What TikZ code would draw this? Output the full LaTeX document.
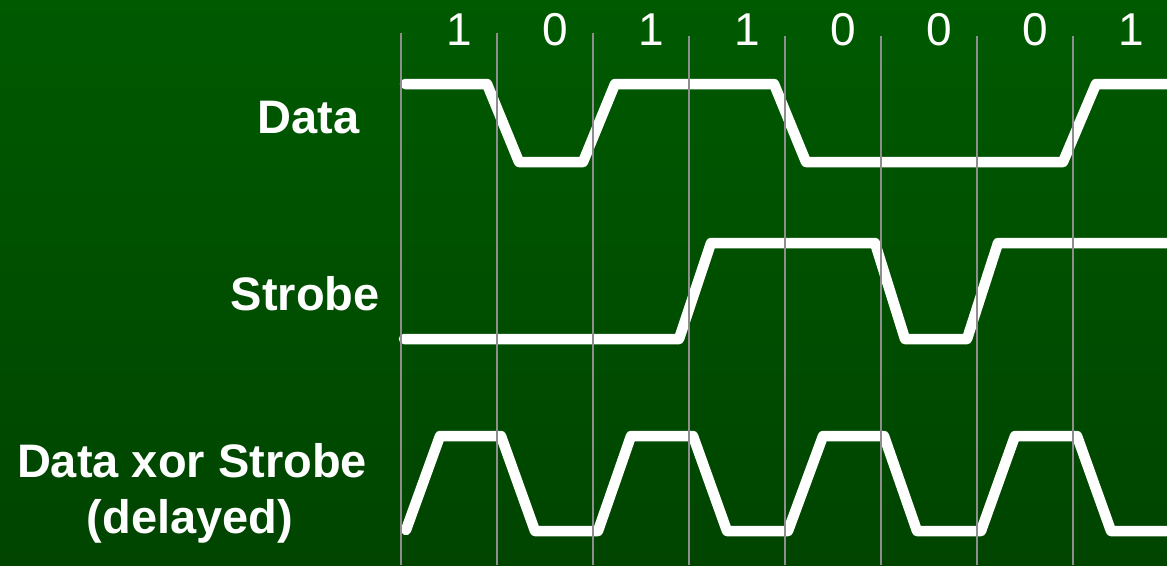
\documentclass[tikz,border=0pt]{standalone}
\usepackage{fontspec}
\setmainfont{Liberation Sans}
\definecolor{bgtop}{RGB}{0,90,0}
\definecolor{bgbot}{RGB}{0,68,0}
\definecolor{gridgray}{RGB}{142,142,142}
\begin{document}
\begin{tikzpicture}[x=1pt,y=-1pt,
  wave/.style={white,line width=10.5pt,line cap=round,line join=round},
  tick/.style={gridgray,line width=2.7pt},
  bit/.style={white,font=\fontsize{46}{46}\selectfont,anchor=base,inner sep=0pt},
  sig/.style={white,font=\fontsize{47}{56}\selectfont\bfseries,inner sep=0pt}]

% background
\shade[top color=bgtop,bottom color=bgbot] (0,0) rectangle (1167,565);
\useasboundingbox (0,0) rectangle (1167,565);

% bit values above each cell
\foreach \x/\b [count=\i] in {459/1,555/0,651/1,747/1,843/0,939/0,1035/0,1131/1}
  \node[bit] (bit\i) at (\x,45) {\b};

% signal names
\node[sig,anchor=base east] (lblData) at (360,133) {Data};
\node[sig,anchor=base east] (lblStrobe) at (380,310) {Strobe};
\node[sig,anchor=base] (lblXor) at (192,477) {Data xor Strobe};
\node[sig,anchor=base] (lblDelay) at (190,533) {(delayed)};

% waveforms
\draw[wave] (405,84) -- (487,84) -- (519,162) -- (583,162) -- (615,84)
  -- (774,84) -- (806,162) -- (1063,162) -- (1096,84) -- (1180,84);
\draw[wave] (404,339) -- (679,339) -- (711,243) -- (875,243) -- (905,339)
  -- (967,339) -- (998,243) -- (1180,243);
\draw[wave] (406,530) -- (440,436) -- (501,436) -- (535,531) -- (598,531)
  -- (631,436) -- (693,436) -- (727,531) -- (788,531) -- (823,436)
  -- (884,436) -- (917,531) -- (981,531) -- (1015,436) -- (1077,436)
  -- (1111,531) -- (1180,531);

% bit-cell boundaries
\foreach \x/\y in {401/33,497/33,593/33,689/36,785/36,881/36,977/36,1073/36}
  \draw[tick] (\x,\y) -- (\x,565);
\end{tikzpicture}
\end{document}
